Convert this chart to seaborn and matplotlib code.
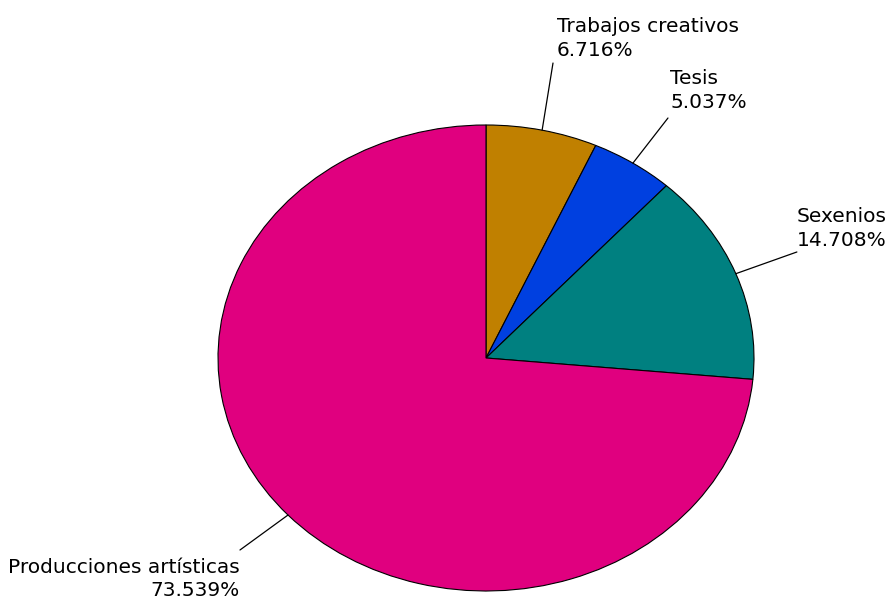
import matplotlib
matplotlib.use("Agg")
import matplotlib.pyplot as plt
import seaborn as sns
import numpy as np

# Data
categories = ["Trabajos creativos", "Tesis", "Sexenios", "Producciones artísticas"]
percentages = [6.716, 5.037, 14.708, 73.539]
slice_colors = ["#C08000", "#0040E0", "#008080", "#E0007F"]

sns.set_theme(style="white")
plt.rcParams['font.family'] = ['DejaVu Sans']

fig = plt.figure(figsize=(8.91, 6.06), dpi=100)
# axes placed so the unit pie maps onto the elliptical area of the reference
ax = fig.add_axes([218 / 891, 15 / 606, 536 / 891, 466 / 606])

palette = sns.color_palette(slice_colors)
wedges, _ = ax.pie(percentages, colors=palette, startangle=90, counterclock=False,
                   wedgeprops=dict(edgecolor="black", linewidth=0.8))
ax.set_aspect("auto")
ax.set_xlim(-1, 1)
ax.set_ylim(-1, 1)
ax.axis("off")

# label anchors (layout) in data coords: line end, text pos, alignment
label_layout = [
    ((0.25, 1.266), (0.265, 1.279), "left", "bottom"),
    ((0.679, 1.030), (0.687, 1.056), "left", "bottom"),
    ((1.160, 0.455), (1.160, 0.464), "left", "bottom"),
    ((-0.918, -0.824), (-0.918, -0.858), "right", "top"),
]

for w, cat, pct, (end, tpos, ha, va) in zip(wedges, categories, percentages, label_layout):
    mid = np.deg2rad((w.theta1 + w.theta2) / 2)
    start = (np.cos(mid), np.sin(mid))
    ax.plot([start[0], end[0]], [start[1], end[1]], color="black", lw=0.9, clip_on=False)
    ax.text(tpos[0], tpos[1], f"{cat}\n{pct:.3f}%", ha=ha, va=va, multialignment=ha,
            fontsize=14.5, color="black", linespacing=1.3, clip_on=False)

fig.savefig("out.png", dpi=100)
